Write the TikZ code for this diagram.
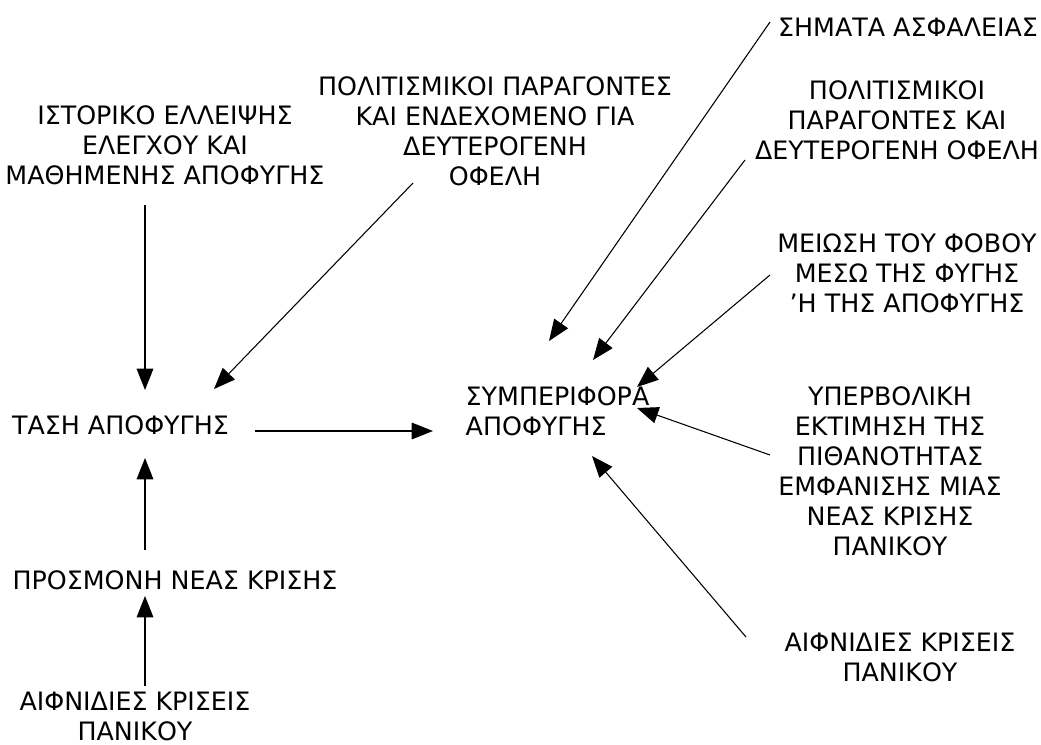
\documentclass[tikz,border=0pt]{standalone}
\usepackage{fontspec}
\setmainfont{DejaVu Sans}
\usepackage{tikz}
\usetikzlibrary{positioning,arrows.meta,calc}

\begin{document}
\begin{tikzpicture}[x=0.75pt,y=-0.75pt,
  lbl/.style={align=center,inner sep=0pt,font=\fontsize{19}{22.5}\selectfont},
  arr/.style={-{Triangle[length=16pt,width=12.5pt]},line width=0.8pt}]
\useasboundingbox (0,0) rectangle (1041,745);

% Left side
\node[lbl] (hist) at (165,145) {ΙΣΤΟΡΙΚΟ ΕΛΛΕΙΨΗΣ\\ΕΛΕΓΧΟΥ ΚΑΙ\\ΜΑΘΗΜΕΝΗΣ ΑΠΟΦΥΓΗΣ};
\node[lbl] (cult) at (495,131) {ΠΟΛΙΤΙΣΜΙΚΟΙ ΠΑΡΑΓΟΝΤΕΣ\\ΚΑΙ ΕΝΔΕΧΟΜΕΝΟ ΓΙΑ\\ΔΕΥΤΕΡΟΓΕΝΗ\\ΟΦΕΛΗ};
\node[lbl] (tens) at (120.5,425) {ΤΑΣΗ ΑΠΟΦΥΓΗΣ};
\node[lbl] (expect) at (175,580) {ΠΡΟΣΜΟΝΗ ΝΕΑΣ ΚΡΙΣΗΣ};
\node[lbl] (panicL) at (135,716) {ΑΙΦΝΙΔΙΕΣ ΚΡΙΣΕΙΣ\\ΠΑΝΙΚΟΥ};

% Centre
\node[lbl,align=left] (behav) at (557.5,411) {ΣΥΜΠΕΡΙΦΟΡΑ\\ΑΠΟΦΥΓΗΣ};

% Right side
\node[lbl] (safety) at (908,27) {ΣΗΜΑΤΑ ΑΣΦΑΛΕΙΑΣ};
\node[lbl] (gain) at (897,120) {ΠΟΛΙΤΙΣΜΙΚΟΙ\\ΠΑΡΑΓΟΝΤΕΣ ΚΑΙ\\ΔΕΥΤΕΡΟΓΕΝΗ ΟΦΕΛΗ};
\node[lbl] (relief) at (907,273) {ΜΕΙΩΣΗ ΤΟΥ ΦΟΒΟΥ\\ΜΕΣΩ ΤΗΣ ΦΥΓΗΣ\\\symbol{39}Η ΤΗΣ ΑΠΟΦΥΓΗΣ};
\node[lbl] (overest) at (890,471) {ΥΠΕΡΒΟΛΙΚΗ\\ΕΚΤΙΜΗΣΗ ΤΗΣ\\ΠΙΘΑΝΟΤΗΤΑΣ\\ΕΜΦΑΝΙΣΗΣ ΜΙΑΣ\\ΝΕΑΣ ΚΡΙΣΗΣ\\ΠΑΝΙΚΟΥ};
\node[lbl] (panicR) at (900,657) {ΑΙΦΝΙΔΙΕΣ ΚΡΙΣΕΙΣ\\ΠΑΝΙΚΟΥ};

% Arrows into the tension
\draw[arr] ($(hist)+(-20,60)$) -- ($(tens)+(24.5,-35)$);
\draw[arr] ($(cult)+(-82,52)$) -- ($(tens)+(93.5,-36)$);
\draw[arr] ($(expect)+(-30,-30)$) -- ($(tens)+(24.5,33)$);
\draw[arr] ($(panicL)+(10,-30)$) -- ($(expect)+(-30,16)$);
\draw[arr] ($(tens)+(134.5,6)$) -- ($(behav)+(-124.5,20)$);

% Arrows into the behaviour
\draw[arr] ($(safety)+(-138,-5)$) -- ($(behav)+(-8.5,-70)$);
\draw[arr] ($(gain)+(-152,40)$) -- ($(behav)+(35.5,-51)$);
\draw[arr] ($(relief)+(-137,2)$) -- ($(behav)+(79.5,-24)$);
\draw[arr] ($(overest)+(-120,-16)$) -- ($(behav)+(79.5,-3)$);
\draw[arr] ($(panicR)+(-154,-20)$) -- ($(behav)+(34.5,45)$);
\end{tikzpicture}
\end{document}
